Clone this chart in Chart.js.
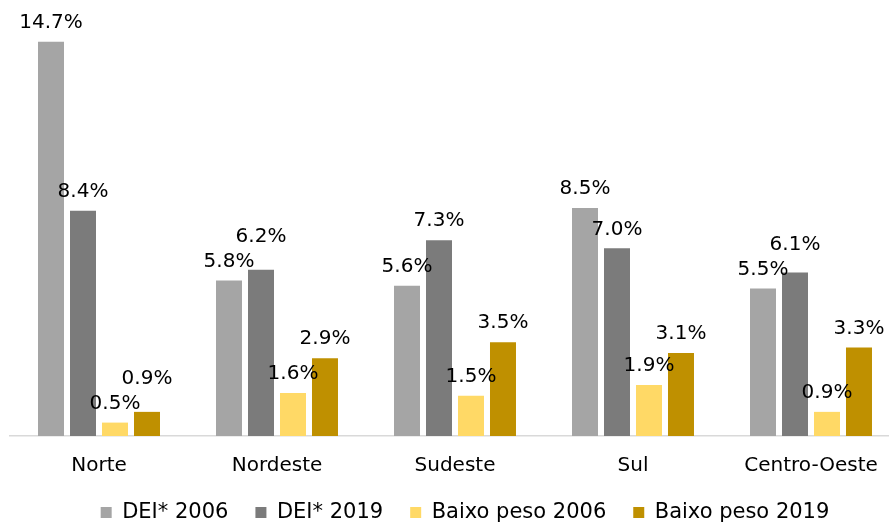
<!DOCTYPE html>
<html>
<head>
<meta charset="utf-8">
<script src="https://cdn.jsdelivr.net/npm/chart.js@4/dist/chart.umd.min.js"></script>
<style>
  html, body { margin: 0; padding: 0; background: #ffffff; overflow: hidden; }
  #wrap { width: 920px; height: 523px; }
</style>
</head>
<body>
<div id="wrap"><canvas id="c" width="920" height="523"></canvas></div>
<script>
const categories = ['Norte', 'Nordeste', 'Sudeste', 'Sul', 'Centro-Oeste'];
const seriesNames = ['DEI* 2006', 'DEI* 2019', 'Baixo peso 2006', 'Baixo peso 2019'];
const dei2006 = [14.7, 5.8, 5.6, 8.5, 5.5];
const dei2019 = [8.4, 6.2, 7.3, 7.0, 6.1];
const baixo2006 = [0.5, 1.6, 1.5, 1.9, 0.9];
const baixo2019 = [0.9, 2.9, 3.5, 3.1, 3.3];
const seriesColors = ['#A5A5A5', '#7B7B7B', '#FFD966', '#BF9000'];

const FONT = 'DejaVu Sans';

const labelPlugin = {
  id: 'barLabels',
  afterDatasetsDraw(chart) {
    const ctx = chart.ctx;
    ctx.save();
    ctx.font = '20px "' + FONT + '"';
    ctx.fillStyle = '#000000';
    ctx.textAlign = 'center';
    ctx.textBaseline = 'middle';
    const n = chart.data.labels.length;
    for (let i = 0; i < n; i++) {
      const placed = [];
      chart.data.datasets.forEach((ds, di) => {
        const meta = chart.getDatasetMeta(di);
        const bar = meta.data[i];
        const v = ds.data[i];
        const text = v.toFixed(1) + '%';
        const w = ctx.measureText(text).width;
        let y = bar.y - 19;
        const x = bar.x;
        let moved = true;
        while (moved) {
          moved = false;
          for (const p of placed) {
            const hOverlap = Math.abs(p.x - x) < (p.w + w) / 2;
            if (hOverlap && Math.abs(p.y - y) < 22) {
              y = p.y - 25;
              moved = true;
            }
          }
        }
        placed.push({x, y, w});
        ctx.fillText(text, x, y);
      });
    }
    ctx.restore();
  }
};

new Chart(document.getElementById('c'), {
  type: 'bar',
  data: {
    labels: categories,
    datasets: [dei2006, dei2019, baixo2006, baixo2019].map((d, k) => ({
      label: seriesNames[k],
      data: d,
      backgroundColor: seriesColors[k],
      borderWidth: 0,
      categoryPercentage: 0.719,
      barPercentage: 0.8125
    }))
  },
  options: {
    responsive: false,
    animation: false,
    devicePixelRatio: 1,
    layout: { padding: { left: 10, right: 0, top: 7, bottom: -10 } },
    plugins: {
      tooltip: { enabled: false },
      legend: {
        position: 'bottom',
        labels: {
          font: { family: FONT, size: 21 },
          color: '#000000',
          boxWidth: 11,
          boxHeight: 11,
          padding: 27
        }
      }
    },
    scales: {
      x: {
        grid: { display: false, drawTicks: false },
        border: { display: true, color: '#D9D9D9', width: 1.5 },
        ticks: { font: { family: FONT, size: 20 }, color: '#000000', padding: 18, maxRotation: 0 },
        afterFit: (scale) => { scale.height -= 21; }
      },
      y: {
        position: 'right',
        min: 0,
        max: 16,
        grid: { display: false, drawTicks: false },
        border: { display: false },
        ticks: { display: false },
        afterFit: (scale) => { scale.width = 20; }
      }
    }
  },
  plugins: [labelPlugin]
});
</script>
</body>
</html>
